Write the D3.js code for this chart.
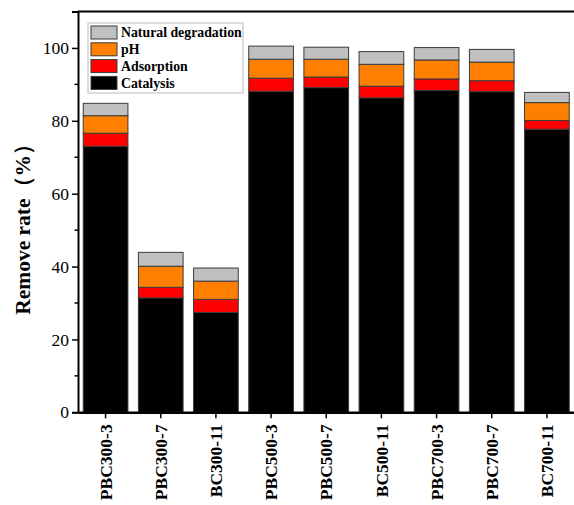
<!DOCTYPE html>
<html>
<head>
<style>
  body { margin: 0; background: #fff; }
  svg { display: block; }
</style>
</head>
<body>
<svg width="574" height="505"></svg>
<script src="https://d3js.org/d3.v7.min.js"></script>
<script>

var samples = ["PBC300-3", "PBC300-7", "BC300-11", "PBC500-3", "PBC500-7", "BC500-11", "PBC700-3", "PBC700-7", "BC700-11"];
var catalysis = [73.0, 31.4, 27.4, 88.1, 89.1, 86.3, 88.3, 88.0, 77.7];
var adsorption = [3.6, 2.9, 3.6, 3.6, 2.9, 3.2, 3.2, 3.0, 2.4];
var ph = [4.8, 5.8, 5.0, 5.2, 4.9, 6.0, 5.2, 5.1, 4.9];
var natural = [3.4, 3.8, 3.6, 3.6, 3.3, 3.5, 3.4, 3.5, 2.8];
var seriesNames = ["Catalysis", "Adsorption", "pH", "Natural degradation"];
var seriesColors = ["#000000", "#ff0000", "#ff8000", "#c0c0c0"];
var yTicks = [0, 20, 40, 60, 80, 100];

var table = samples.map(function (s, i) {
    return {
        sample: s,
        "Catalysis": catalysis[i],
        "Adsorption": adsorption[i],
        "pH": ph[i],
        "Natural degradation": natural[i]
    };
});

var svg = d3.select("svg"),
    plotLeft = 78, plotRight = 574.5, plotTop = 11.5, plotBottom = 412.3;

var x = d3.scaleBand()
    .domain(samples)
    .range([plotLeft, plotRight])
    .paddingInner(0.19)
    .paddingOuter(0.095);

var y = d3.scaleLinear()
    .domain([0, 110])
    .range([plotBottom, plotTop]);

var color = d3.scaleOrdinal().domain(seriesNames).range(seriesColors);

var stacked = d3.stack().keys(seriesNames)(table);

svg.append("g")
    .selectAll("g")
    .data(stacked)
    .join("g")
    .attr("fill", function (d) { return color(d.key); })
    .selectAll("rect")
    .data(function (d) { return d; })
    .join("rect")
    .attr("x", function (d) { return x(d.data.sample); })
    .attr("y", function (d) { return y(d[1]); })
    .attr("width", x.bandwidth())
    .attr("height", function (d) { return y(d[0]) - y(d[1]); })
    .attr("stroke", "#3a3a3a")
    .attr("stroke-width", 1);

// frame top
svg.append("line")
    .attr("x1", plotLeft).attr("x2", 574)
    .attr("y1", plotTop).attr("y2", plotTop)
    .attr("stroke", "#000").attr("stroke-width", 2);

// y axis
var yAxis = svg.append("g")
    .attr("transform", "translate(" + plotLeft + ",0)")
    .call(d3.axisLeft(y).tickValues(yTicks).tickSize(6).tickPadding(3));
yAxis.select(".domain").attr("stroke-width", 2);
yAxis.selectAll(".tick line").attr("stroke-width", 1.5);
yAxis.selectAll("text")
    .attr("font-family", "Liberation Serif, Times New Roman, serif")
    .attr("font-size", 17.5)
    .attr("fill", "#000");

// minor y ticks
svg.append("g")
    .selectAll("line")
    .data([10, 30, 50, 70, 90])
    .join("line")
    .attr("x1", plotLeft - 3.5).attr("x2", plotLeft)
    .attr("y1", function (d) { return y(d); })
    .attr("y2", function (d) { return y(d); })
    .attr("stroke", "#000").attr("stroke-width", 1.5);

// x axis
var xAxis = svg.append("g")
    .attr("transform", "translate(0," + plotBottom + ")")
    .call(d3.axisBottom(x).tickSize(6).tickSizeOuter(0));
xAxis.select(".domain").attr("stroke-width", 2.5);
xAxis.selectAll(".tick line").attr("stroke-width", 1.5);
xAxis.selectAll("text")
    .attr("font-family", "Liberation Serif, Times New Roman, serif")
    .attr("font-size", 17.5)
    .attr("font-weight", "bold")
    .attr("fill", "#000")
    .attr("transform", "rotate(-90)")
    .attr("text-anchor", "end")
    .attr("x", -12)
    .attr("y", 0)
    .attr("dy", "0.35em");

// y title
svg.append("text")
    .attr("transform", "translate(22," + ((plotTop + plotBottom) / 2 + 12) + ") rotate(-90)")
    .attr("text-anchor", "middle")
    .attr("dy", "0.35em")
    .attr("font-family", "Liberation Serif, Times New Roman, serif")
    .attr("font-size", 21.5)
    .attr("font-weight", "bold")
    .text("Remove rate（%）");

// legend
var legend = svg.append("g");
legend.append("rect")
    .attr("x", 88).attr("y", 23)
    .attr("width", 155).attr("height", 70)
    .attr("fill", "#fff")
    .attr("stroke", "#bbb")
    .attr("stroke-width", 1);

var items = legend.selectAll("g.item")
    .data(seriesNames.slice().reverse())
    .join("g")
    .attr("class", "item")
    .attr("transform", function (d, i) { return "translate(91," + (26 + i * 16.8) + ")"; });

items.append("rect")
    .attr("width", 26).attr("height", 13)
    .attr("fill", function (d) { return color(d); })
    .attr("stroke", "#3a3a3a")
    .attr("stroke-width", 1);

items.append("text")
    .attr("x", 30)
    .attr("y", 6.5)
    .attr("dy", "0.35em")
    .attr("font-family", "Liberation Serif, Times New Roman, serif")
    .attr("font-size", 13.8)
    .attr("font-weight", "bold")
    .text(function (d) { return d; });

</script>
</body>
</html>
